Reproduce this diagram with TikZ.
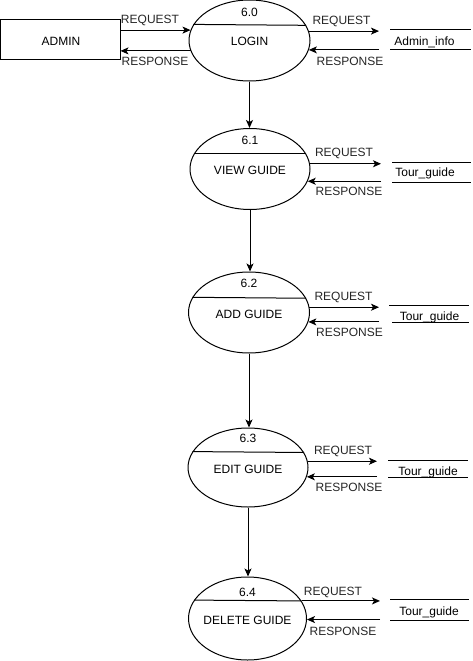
\documentclass[tikz,border=0pt]{standalone}
\usepackage{fontspec}
\setmainfont{Liberation Sans}
\usetikzlibrary{shapes.geometric,arrows.meta}
\tikzset{
  x=1pt,y=-1pt,
  every path/.style={line width=1pt},
  arr/.style={-{Stealth[length=8pt,width=7pt,inset=2pt]}},
  proc/.style={ellipse,draw,inner sep=0pt,fill=white},
  ent/.style={rectangle,draw,inner sep=0pt,minimum width=119.5pt,minimum height=40pt},
  txt/.style={inner sep=0pt,font=\fontsize{12}{14}\selectfont,text height=8.6pt,text depth=0pt},
  lbl/.style={txt,text=black!85},
}
\begin{document}
\begin{tikzpicture}
\useasboundingbox (0,0) rectangle (473,661);
% entity
\node[ent] (a) at (60.25,40) {};
\node[txt] (at) at (61,41) {ADMIN};
% processes
\node[proc,minimum width=121pt,minimum height=81pt] (p0) at (249.5,40.5) {};
\node[proc,minimum width=120pt,minimum height=81pt] (p1) at (250,169) {};
\node[proc,minimum width=121pt,minimum height=81pt] (p2) at (249,312.5) {};
\node[proc,minimum width=120pt,minimum height=79pt] (p3) at (248,467.5) {};
\node[proc,minimum width=118pt,minimum height=83pt] (p4) at (247.5,618.5) {};
% dividers
\draw (p0.164.5) -- (p0.15.5);
\draw (p1.165) -- (p1.15);
\draw (p2.165.6) -- (p2.14.4);
\draw (p3.164.3) -- (p3.15.7);
\draw (p4.161.9) -- (p4.18.1);
% process texts
\node[txt] (n0) at (249.5,12) {6.0};
\node[txt] (t0) at (249.5,41) {LOGIN};
\node[txt] (n1) at (250,140) {6.1};
\node[txt] (t1) at (250,170) {VIEW GUIDE};
\node[txt] (n2) at (249,283) {6.2};
\node[txt] (t2) at (249,314) {ADD GUIDE};
\node[txt] (n3) at (248,438) {6.3};
\node[txt] (t3) at (248,469) {EDIT GUIDE};
\node[txt] (n4) at (247.5,592) {6.4};
\node[txt] (t4) at (247.5,620) {DELETE GUIDE};
% flows between processes
\draw[arr] (p0.south) -- (p0.south |- p1.north);
\draw[arr] (p1.south) -- (p1.south |- p2.north);
\draw[arr] (p2.south) -- (p2.south |- p3.north);
\draw[arr] (p3.south) -- (p3.south |- p4.north);
% admin flows
\draw[arr] (p0.170.8 -| a.east) -- (p0.170.8);
\draw[arr] (p0.-170.8) -- (p0.-170.8 -| a.east);
\node[lbl] (lq) at (150,19) {REQUEST};
\node[lbl] (lr) at (155,61) {RESPONSE};
% data stores
\coordinate (s0) at (379,40);
\coordinate (s1) at (381,172);
\coordinate (s2) at (379,314);
\coordinate (s3) at (377,469);
\coordinate (s4) at (380,610);
\draw (390,30) -- (471,30) (390,50) -- (471,50);
\draw (392,162) -- (471,162) (392,182) -- (471,182);
\draw (389,305) -- (469,305) (392,322) -- (469,322);
\draw (388,460) -- (468,460) (388,477) -- (468,477);
\draw (390,599) -- (469,599) (390,620) -- (469,620);
\node[txt] (d0) at (424.5,41) {Admin\_info};
\node[txt] (d1) at (425,172) {Tour\_guide};
\node[txt] (d2) at (429.5,316) {Tour\_guide};
\node[txt] (d3) at (428,471) {Tour\_guide};
\node[txt] (d4) at (429,611) {Tour\_guide};
% store flows
\draw[arr] (p0.9.2) -- (p0.9.2 -| s0);
\draw[arr] (p0.-9.2 -| s0) -- (p0.-9.2);
\draw[arr] (p1.5.8) -- (p1.5.8 -| s1);
\draw[arr] (p1.-12.9 -| s1) -- (p1.-12.9);
\draw[arr] (p2.5.2) -- (p2.5.2 -| s2);
\draw[arr] (p2.-9.2 -| s2) -- (p2.-9.2);
\draw[arr] (p3.6.3) -- (p3.6.3 -| s3);
\draw[arr] (p3.-9.3 -| s3) -- (p3.-9.3);
\draw[arr] (p4.18.1) -- (p4.18.1 -| s4);
\draw[arr] (p4.-1.5 -| s4) -- (p4.-1.5);
% labels
\node[lbl] (q0) at (341.5,20) {REQUEST};
\node[lbl] (r0) at (350,61) {RESPONSE};
\node[lbl] (q1) at (344,152) {REQUEST};
\node[lbl] (r1) at (349,191) {RESPONSE};
\node[lbl] (q2) at (343.5,296) {REQUEST};
\node[lbl] (r2) at (349.5,332) {RESPONSE};
\node[lbl] (q3) at (343,450) {REQUEST};
\node[lbl] (r3) at (349,487) {RESPONSE};
\node[lbl] (q4) at (333,591) {REQUEST};
\node[lbl] (r4) at (343,631) {RESPONSE};
\end{tikzpicture}
\end{document}
